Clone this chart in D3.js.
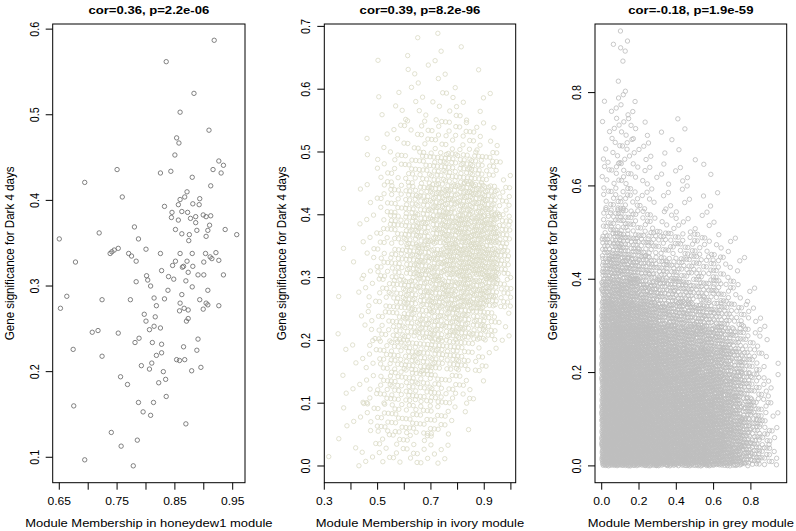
<!DOCTYPE html>
<html lang="en">
  <head>
    <meta charset="UTF-8" />
    <title>Module membership vs gene significance</title>
    <script src="https://cdnjs.cloudflare.com/ajax/libs/d3/7.8.5/d3.min.js"></script>
    <style>
      body {
        margin: 0;
        background: #fff;
      }
      svg text {
        font-family: 'Liberation Sans', Arial, sans-serif;
        fill: #000;
      }
      .tick-label {
        font-size: 10.8px;
      }
      .axis-title {
        font-size: 11.6px;
      }
      .main-title {
        font-size: 11.7px;
        font-weight: bold;
      }
    </style>
  </head>
  <body>
    <svg width="796" height="531"></svg>
    <script>
      // ---- chart data ----
      const titles = ['cor=0.36, p=2.2e-06', 'cor=0.39, p=8.2e-96', 'cor=-0.18, p=1.9e-59'];
      const xTitles = [
        'Module Membership in honeydew1 module',
        'Module Membership in ivory module',
        'Module Membership in grey module',
      ];
      const yTitle = 'Gene significance for Dark 4 days';

      // honeydew1: every gene read individually
      const honeydewMM = [
        0.918, 0.835, 0.883, 0.859, 0.909, 0.853, 0.857, 0.85, 0.926, 0.934, 0.916, 0.75, 0.843,
        0.825, 0.93, 0.88, 0.694, 0.912, 0.871, 0.759, 0.867, 0.859, 0.893, 0.881, 0.892, 0.856,
        0.832, 0.845, 0.862, 0.872, 0.899, 0.912, 0.844, 0.856, 0.877, 0.886, 0.904, 0.886, 0.91,
        0.78, 0.851, 0.888, 0.907, 0.937, 0.719, 0.862, 0.875, 0.904, 0.957, 0.65, 0.787, 0.874,
        0.8, 0.752, 0.745, 0.741, 0.738, 0.77, 0.775, 0.825, 0.859, 0.88, 0.903, 0.921, 0.911,
        0.914, 0.926, 0.783, 0.678, 0.851, 0.871, 0.9, 0.846, 0.865, 0.881, 0.827, 0.839, 0.848,
        0.873, 0.89, 0.9, 0.934, 0.863, 0.801, 0.803, 0.783, 0.869, 0.808, 0.88, 0.838, 0.907,
        0.663, 0.862, 0.724, 0.773, 0.814, 0.832, 0.893, 0.859, 0.904, 0.907, 0.818, 0.926, 0.652,
        0.858, 0.866, 0.873, 0.899, 0.797, 0.816, 0.873, 0.8, 0.87, 0.814, 0.825, 0.806, 0.717,
        0.707, 0.752, 0.788, 0.89, 0.781, 0.811, 0.827, 0.865, 0.674, 0.888, 0.827, 0.818, 0.724,
        0.853, 0.858, 0.867, 0.81, 0.792, 0.806, 0.895, 0.83, 0.879, 0.756, 0.834, 0.822, 0.768,
        0.835, 0.787, 0.813, 0.675, 0.795, 0.808, 0.869, 0.74, 0.785, 0.757, 0.694, 0.778,
      ];
      const honeydewGS = [
        0.587, 0.562, 0.525, 0.503, 0.482, 0.473, 0.467, 0.453, 0.446, 0.441, 0.436, 0.436, 0.434,
        0.432, 0.432, 0.427, 0.421, 0.417, 0.41, 0.404, 0.404, 0.401, 0.402, 0.396, 0.395, 0.395,
        0.393, 0.386, 0.387, 0.386, 0.383, 0.382, 0.38, 0.377, 0.379, 0.381, 0.381, 0.374, 0.371,
        0.369, 0.366, 0.365, 0.365, 0.366, 0.362, 0.361, 0.36, 0.358, 0.36, 0.355, 0.355, 0.353,
        0.343, 0.344, 0.342, 0.34, 0.338, 0.338, 0.335, 0.338, 0.338, 0.338, 0.338, 0.339, 0.334,
        0.332, 0.33, 0.329, 0.328, 0.329, 0.329, 0.328, 0.324, 0.323, 0.323, 0.318, 0.311, 0.308,
        0.316, 0.313, 0.313, 0.313, 0.322, 0.312, 0.307, 0.305, 0.306, 0.3, 0.299, 0.295, 0.295,
        0.288, 0.29, 0.284, 0.284, 0.286, 0.285, 0.284, 0.28, 0.28, 0.278, 0.277, 0.277, 0.274,
        0.271, 0.274, 0.272, 0.273, 0.267, 0.264, 0.262, 0.259, 0.259, 0.253, 0.251, 0.249, 0.248,
        0.246, 0.245, 0.239, 0.238, 0.234, 0.234, 0.232, 0.229, 0.226, 0.225, 0.222, 0.219, 0.218,
        0.214, 0.213, 0.214, 0.21, 0.207, 0.203, 0.205, 0.2, 0.201, 0.194, 0.191, 0.187, 0.185,
        0.171, 0.164, 0.164, 0.16, 0.153, 0.149, 0.139, 0.129, 0.12, 0.113, 0.097, 0.09,
      ];

      // ivory: too dense to read one by one, so gene counts per 0.05 x 0.05 bin
      const ivoryXBins = [0.3, 0.35, 0.4, 0.45, 0.5, 0.55, 0.6, 0.65, 0.7, 0.75, 0.8, 0.85, 0.9, 0.95];
      const ivoryYBins = [0.65, 0.6, 0.55, 0.5, 0.45, 0.4, 0.35, 0.3, 0.25, 0.2, 0.15, 0.1, 0.05, 0.0];
      const ivoryCounts = [
        [0, 0, 0, 0, 0, 0, 1, 1, 2, 0, 1, 0, 0, 0],
        [0, 0, 0, 0, 1, 0, 3, 2, 2, 2, 0, 1, 0, 0],
        [0, 0, 0, 0, 2, 3, 2, 3, 4, 5, 3, 2, 1, 0],
        [0, 0, 0, 1, 3, 4, 6, 7, 8, 9, 9, 7, 3, 0],
        [0, 0, 0, 2, 5, 8, 13, 17, 20, 22, 24, 22, 13, 3],
        [0, 0, 1, 3, 7, 13, 20, 26, 30, 34, 36, 36, 30, 12],
        [0, 0, 2, 4, 9, 17, 26, 30, 34, 38, 44, 46, 42, 20],
        [0, 1, 2, 5, 11, 19, 28, 32, 36, 42, 46, 48, 44, 22],
        [0, 1, 2, 5, 11, 20, 27, 30, 34, 38, 40, 40, 34, 16],
        [0, 1, 1, 5, 11, 18, 24, 27, 28, 30, 30, 26, 16, 5],
        [0, 1, 3, 6, 13, 17, 22, 24, 24, 21, 16, 9, 3, 0],
        [0, 2, 3, 6, 13, 16, 19, 18, 15, 12, 8, 2, 0, 0],
        [0, 2, 3, 6, 11, 13, 15, 12, 9, 6, 2, 0, 0, 0],
        [1, 1, 3, 3, 7, 8, 8, 6, 4, 2, 0, 0, 0, 0],
      ];

      // grey: gene counts per 0.05 x 0.05 bin
      const greyXBins = [
        0, 0.05, 0.1, 0.15, 0.2, 0.25, 0.3, 0.35, 0.4, 0.45, 0.5, 0.55, 0.6, 0.65, 0.7, 0.75, 0.8,
        0.85, 0.9,
      ];
      const greyYBins = [
        0.9, 0.85, 0.8, 0.75, 0.7, 0.65, 0.6, 0.55, 0.5, 0.45, 0.4, 0.35, 0.3, 0.25, 0.2, 0.15, 0.1,
        0.05, 0.0,
      ];
      const greyCounts = [
        [0, 1, 2, 0, 0, 0, 0, 0, 0, 0, 0, 0, 0, 0, 0, 0, 0, 0, 0],
        [0, 0, 3, 0, 0, 0, 0, 0, 0, 0, 0, 0, 0, 0, 0, 0, 0, 0, 0],
        [0, 1, 1, 0, 0, 0, 0, 0, 0, 0, 0, 0, 0, 0, 0, 0, 0, 0, 0],
        [1, 3, 3, 2, 0, 0, 0, 0, 0, 0, 0, 0, 0, 0, 0, 0, 0, 0, 0],
        [2, 4, 4, 3, 2, 0, 1, 0, 2, 0, 0, 0, 0, 0, 0, 0, 0, 0, 0],
        [3, 5, 5, 3, 2, 2, 1, 1, 1, 0, 1, 0, 0, 0, 0, 0, 0, 0, 0],
        [4, 6, 6, 4, 3, 2, 2, 2, 2, 1, 1, 1, 0, 0, 0, 0, 0, 0, 0],
        [6, 8, 8, 6, 4, 3, 2, 2, 2, 2, 1, 1, 1, 0, 0, 0, 0, 0, 0],
        [10, 13, 13, 10, 7, 5, 4, 3, 3, 2, 2, 2, 1, 0, 0, 0, 0, 0, 0],
        [20, 24, 22, 18, 14, 12, 10, 9, 8, 7, 6, 5, 4, 2, 1, 0, 0, 0, 0],
        [30, 34, 32, 28, 22, 18, 16, 14, 13, 12, 10, 9, 7, 5, 2, 1, 0, 0, 0],
        [42, 46, 44, 40, 34, 28, 24, 22, 20, 18, 16, 14, 11, 8, 5, 2, 1, 0, 0],
        [55, 60, 58, 54, 48, 42, 36, 32, 30, 28, 26, 22, 18, 14, 9, 5, 2, 1, 0],
        [70, 76, 74, 70, 64, 58, 52, 48, 44, 42, 40, 36, 30, 24, 16, 10, 5, 2, 0],
        [78, 84, 82, 78, 72, 68, 62, 58, 55, 52, 50, 46, 40, 32, 24, 15, 8, 3, 1],
        [84, 90, 88, 84, 78, 74, 70, 66, 62, 60, 58, 54, 48, 40, 30, 20, 11, 5, 2],
        [88, 94, 92, 88, 84, 80, 76, 72, 70, 68, 64, 60, 54, 46, 36, 26, 14, 7, 3],
        [92, 98, 96, 92, 88, 84, 80, 78, 76, 74, 70, 66, 60, 52, 42, 30, 18, 9, 4],
        [96, 100, 98, 96, 92, 88, 84, 82, 80, 78, 74, 70, 64, 56, 46, 34, 22, 11, 5],
      ];

      // axis ticks
      const honeydewXTicks = [0.65, 0.7, 0.75, 0.8, 0.85, 0.9, 0.95];
      const honeydewXLabels = [0.65, 0.75, 0.85, 0.95];
      const honeydewYTicks = [0.1, 0.2, 0.3, 0.4, 0.5, 0.6];
      const ivoryXTicks = [0.3, 0.4, 0.5, 0.6, 0.7, 0.8, 0.9, 1.0];
      const ivoryXLabels = [0.3, 0.5, 0.7, 0.9];
      const ivoryYTicks = [0.0, 0.1, 0.2, 0.3, 0.4, 0.5, 0.6, 0.7];
      const greyXTicks = [0.0, 0.2, 0.4, 0.6, 0.8];
      const greyYTicks = [0.0, 0.2, 0.4, 0.6, 0.8];

      // spread the genes of each bin over the bin (fixed low-discrepancy order, no randomness)
      function spreadBins(xBins, yBins, counts, step) {
        const pts = [];
        let idx = 0;
        counts.forEach((row, r) =>
          row.forEach((n, c) => {
            for (let k = 0; k < n; k++) {
              idx++;
              const u = (0.5 + idx * 0.7548776662) % 1;
              const v = (0.5 + idx * 0.569840291) % 1;
              pts.push([xBins[c] + u * step, yBins[r] + v * step]);
            }
          }),
        );
        return pts;
      }

      const panels = [
        {
          points: honeydewMM.map((m, i) => [m, honeydewGS[i]]),
          color: '#6b6b6b',
          box: [52.7, 245],
          xDomain: [0.6386, 0.9713],
          yDomain: [0.0703, 0.606],
          xTicks: honeydewXTicks,
          xLabels: honeydewXLabels,
          yTicks: honeydewYTicks,
          xFmt: d3.format('.2f'),
          yFmt: d3.format('.1f'),
        },
        {
          points: spreadBins(ivoryXBins, ivoryYBins, ivoryCounts, 0.05),
          color: '#dcdcc8',
          box: [324.3, 515.7],
          xDomain: [0.3, 1.018],
          yDomain: [-0.0266, 0.7038],
          xTicks: ivoryXTicks,
          xLabels: ivoryXLabels,
          yTicks: ivoryYTicks,
          xFmt: d3.format('.1f'),
          yFmt: d3.format('.1f'),
        },
        {
          points: spreadBins(greyXBins, greyYBins, greyCounts, 0.05),
          color: '#bebebe',
          box: [595, 786.7],
          xDomain: [-0.036, 0.992],
          yDomain: [-0.036, 0.947],
          xTicks: greyXTicks,
          xLabels: greyXTicks,
          yTicks: greyYTicks,
          xFmt: d3.format('.1f'),
          yFmt: d3.format('.1f'),
        },
      ];

      const svg = d3.select('svg');
      const plotTop = 24,
        plotBottom = 482.7,
        tickLen = 7,
        stretch = 1.12; // the original picture is a little wider than tall

      const hText = (x, y) => `translate(${x},${y}) scale(${stretch},1)`;
      const vText = (x, y) => `translate(${x},${y}) scale(${stretch},1) rotate(-90)`;

      panels.forEach((p, i) => {
        const [left, right] = p.box;
        const x = d3.scaleLinear().domain(p.xDomain).range([left, right]);
        const y = d3.scaleLinear().domain(p.yDomain).range([plotBottom, plotTop]);
        const g = svg.append('g');

        // points (clipped to the plot box like R does)
        const clipId = 'clip' + i;
        svg
          .append('clipPath')
          .attr('id', clipId)
          .append('rect')
          .attr('x', left)
          .attr('y', plotTop)
          .attr('width', right - left)
          .attr('height', plotBottom - plotTop);

        g.append('g')
          .attr('clip-path', `url(#${clipId})`)
          .selectAll('circle')
          .data(p.points)
          .join('circle')
          .attr('cx', d => x(d[0]))
          .attr('cy', d => y(d[1]))
          .attr('r', 2.2)
          .attr('fill', 'none')
          .attr('stroke', p.color)
          .attr('stroke-width', 0.85);

        // box
        g.append('rect')
          .attr('x', left)
          .attr('y', plotTop)
          .attr('width', right - left)
          .attr('height', plotBottom - plotTop)
          .attr('fill', 'none')
          .attr('stroke', '#000')
          .attr('stroke-width', 1);

        // x axis
        g.selectAll('.xtick')
          .data(p.xTicks)
          .join('line')
          .attr('x1', d => x(d))
          .attr('x2', d => x(d))
          .attr('y1', plotBottom)
          .attr('y2', plotBottom + tickLen)
          .attr('stroke', '#000');
        g.selectAll('.xlab')
          .data(p.xLabels)
          .join('text')
          .attr('class', 'tick-label')
          .attr('text-anchor', 'middle')
          .attr('transform', d => hText(x(d), 505))
          .text(d => p.xFmt(d));

        // y axis
        g.selectAll('.ytick')
          .data(p.yTicks)
          .join('line')
          .attr('x1', left - tickLen)
          .attr('x2', left)
          .attr('y1', d => y(d))
          .attr('y2', d => y(d))
          .attr('stroke', '#000');
        g.selectAll('.ylab')
          .data(p.yTicks)
          .join('text')
          .attr('class', 'tick-label')
          .attr('text-anchor', 'middle')
          .attr('transform', d => vText(left - 14, y(d)))
          .text(d => p.yFmt(d));

        // titles
        g.append('text')
          .attr('class', 'main-title')
          .attr('text-anchor', 'middle')
          .attr('transform', hText((left + right) / 2, 14))
          .text(titles[i]);
        g.append('text')
          .attr('class', 'axis-title')
          .attr('text-anchor', 'middle')
          .attr('transform', hText((left + right) / 2, 526.5))
          .text(xTitles[i]);
        g.append('text')
          .attr('class', 'axis-title')
          .attr('text-anchor', 'middle')
          .attr('transform', vText(left - 38.5, (plotTop + plotBottom) / 2))
          .text(yTitle);
      });
    </script>
  </body>
</html>
